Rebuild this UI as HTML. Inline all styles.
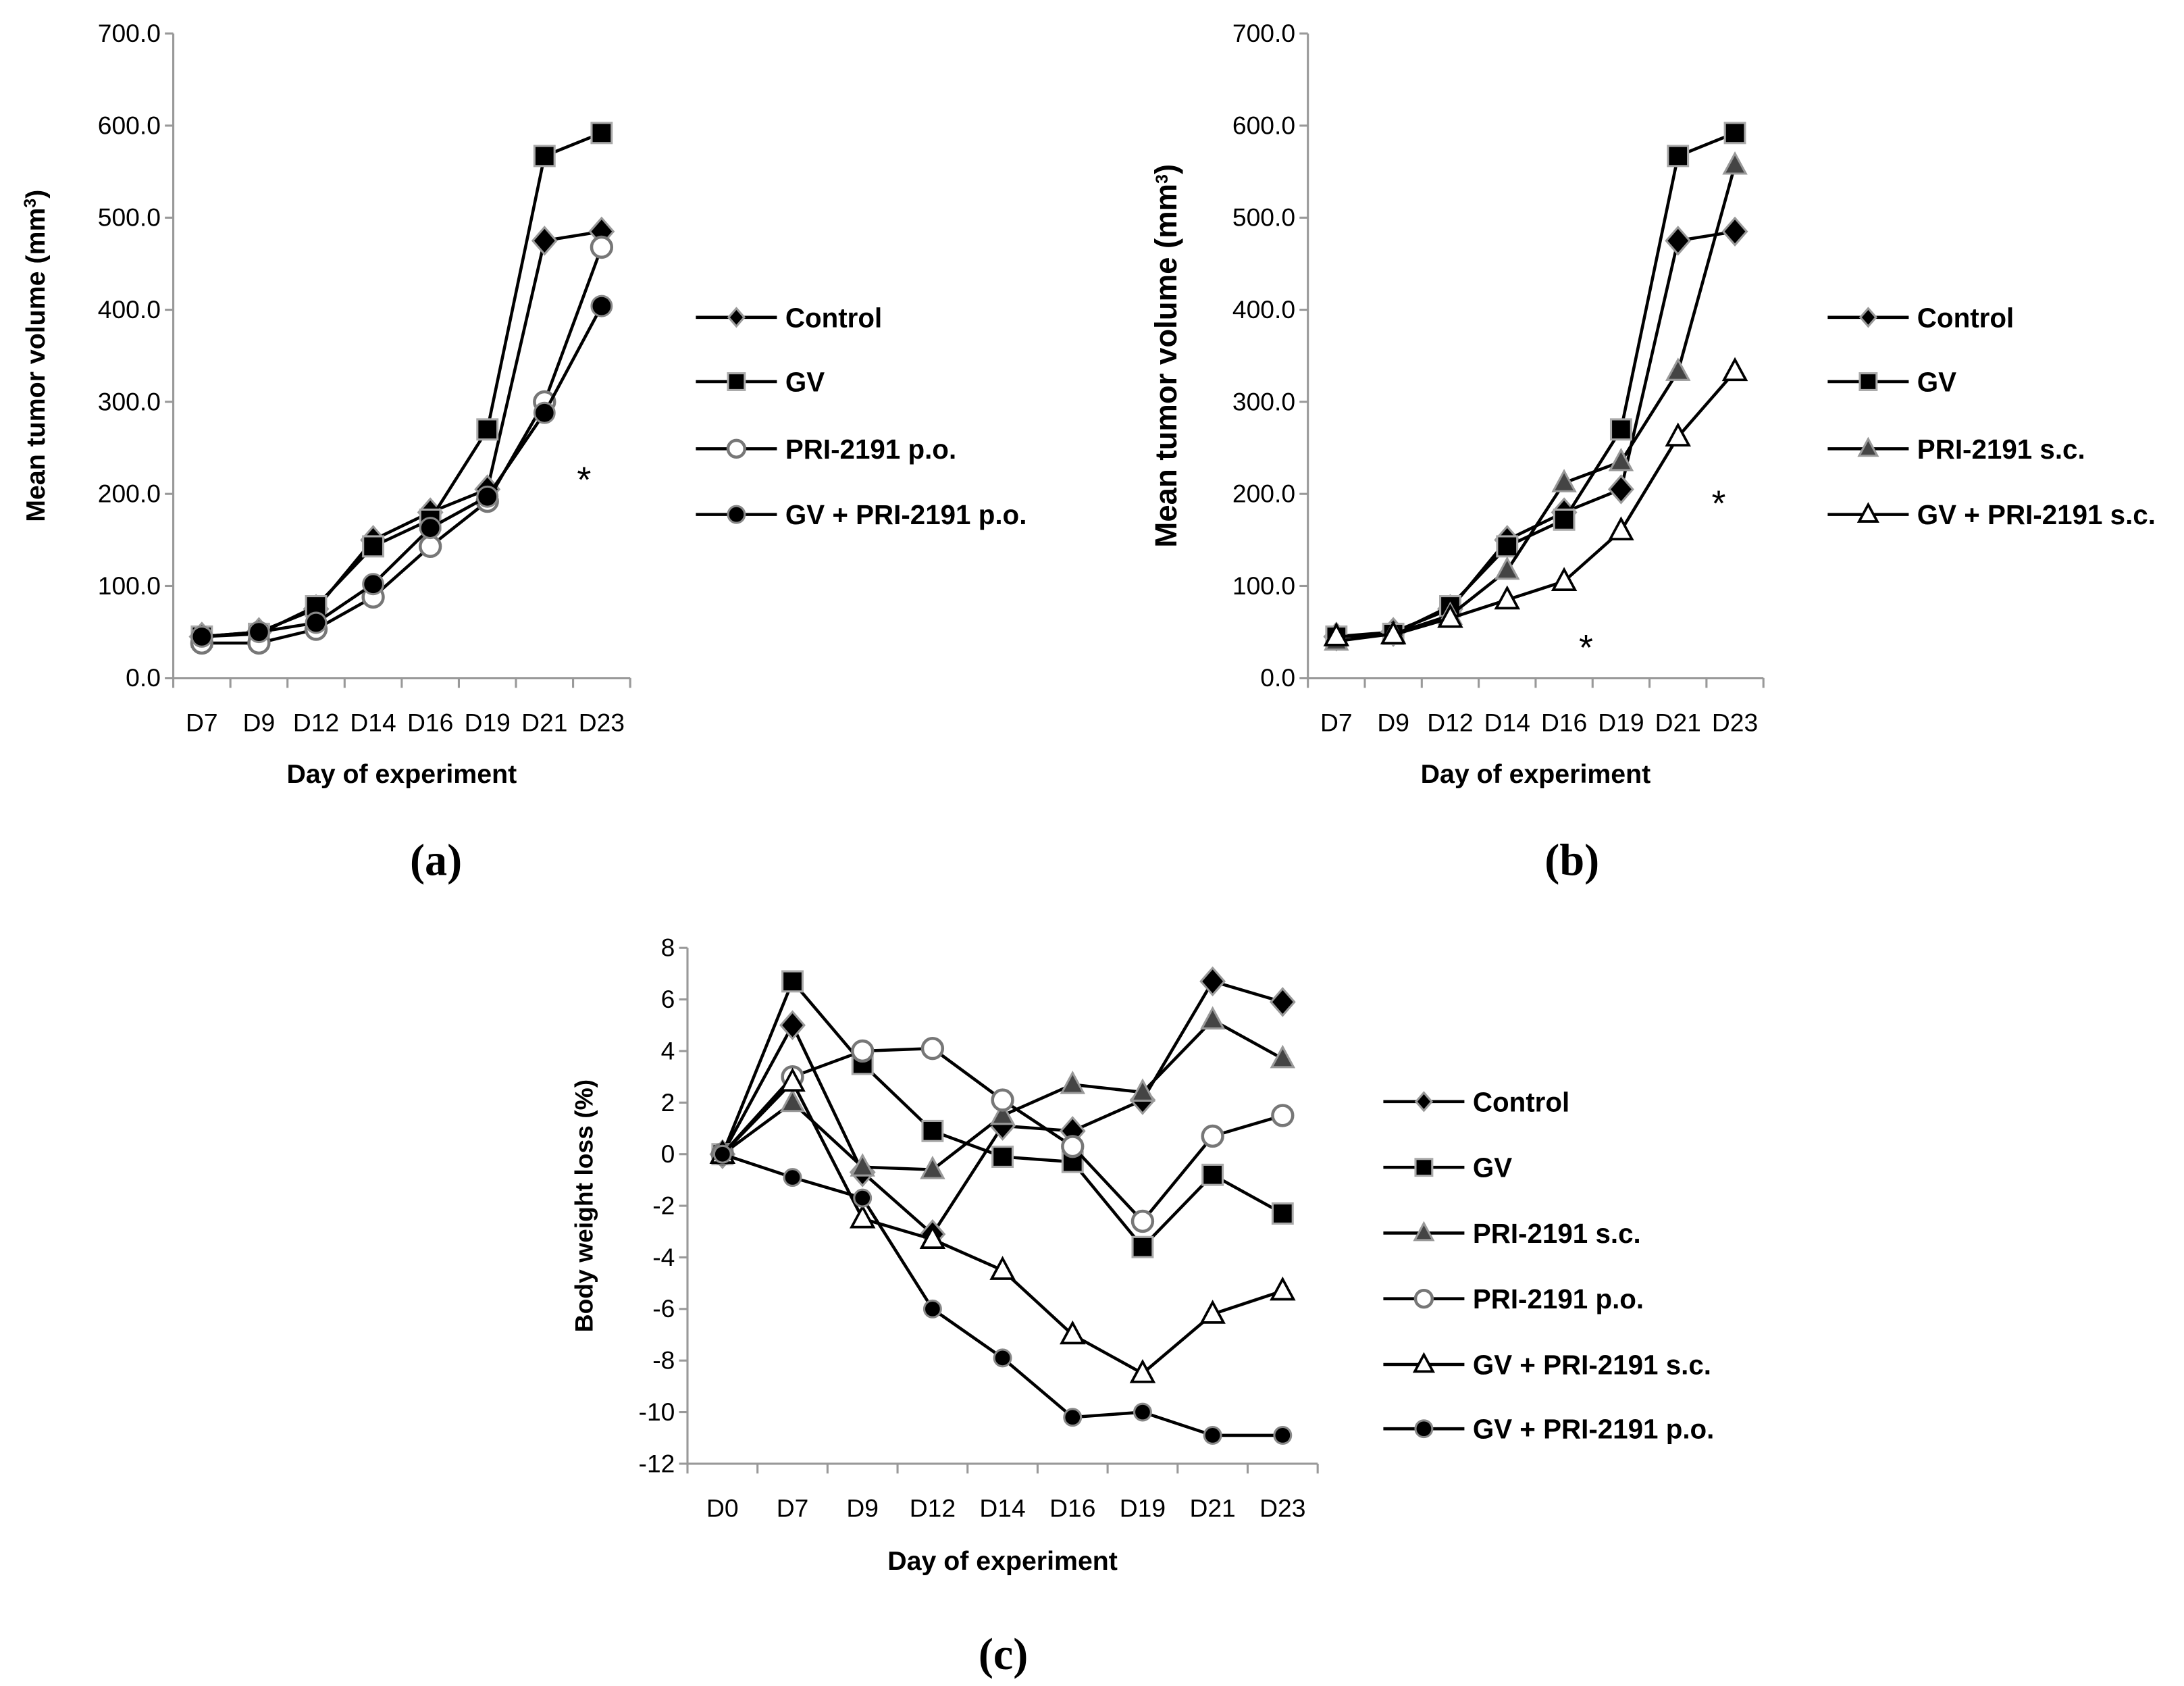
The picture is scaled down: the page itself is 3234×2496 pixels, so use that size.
<!DOCTYPE html>
<html><head><meta charset="utf-8"><style>
html,body{margin:0;padding:0;background:#fff;}
svg{display:block;font-family:"Liberation Sans",sans-serif;}
.tk{font-size:18px;fill:#000;}
.ttl{font-size:19px;font-weight:bold;fill:#000;}
.lg{font-size:19.5px;font-weight:bold;fill:#000;}
.pl{font-family:"Liberation Serif",serif;font-size:32px;font-weight:bold;}
</style></head><body>
<svg id="fig" width="3234" height="2496" viewBox="0 0 1563 1206" preserveAspectRatio="none" xmlns="http://www.w3.org/2000/svg"></svg>
<script>
const catsAB = ["D7","D9","D12","D14","D16","D19","D21","D23"];
const catsC = ["D0","D7","D9","D12","D14","D16","D19","D21","D23"];
const ticksAB = [0,100,200,300,400,500,600,700];
const ticksC = [-12,-10,-8,-6,-4,-2,0,2,4,6,8];
const aControl = [45,50,75,150,180,205,475,485];
const aGV = [45,48,78,143,172,270,567,592];
const aPRIpo = [38,38,53,88,143,192,300,468];
const aGVPRIpo = [45,50,60,102,163,197,288,404];
const bControl = [45,50,75,150,180,205,475,485];
const bGV = [45,48,78,143,172,270,567,592];
const bPRIsc = [40,48,68,117,212,235,333,557];
const bGVPRIsc = [45,47,65,85,105,160,262,333];
const cControl = [0,5,-0.7,-3.1,1.1,0.9,2.1,6.7,5.9];
const cGV = [0,6.7,3.5,0.9,-0.1,-0.3,-3.6,-0.8,-2.3];
const cPRIsc = [0,2,-0.5,-0.6,1.5,2.7,2.4,5.2,3.7];
const cPRIpo = [0,3,4,4.1,2.1,0.3,-2.6,0.7,1.5];
const cGVPRIsc = [0,2.8,-2.5,-3.3,-4.5,-7,-8.5,-6.2,-5.3];
const cGVPRIpo = [0,-0.9,-1.7,-6,-7.9,-10.2,-10,-10.9,-10.9];

const NS="http://www.w3.org/2000/svg";
const svg=document.getElementById('fig');
function mk(tag,attrs,parent){const e=document.createElementNS(NS,tag);for(const k in attrs)e.setAttribute(k,attrs[k]);(parent||svg).appendChild(e);return e;}

function marker(g,type,x,y,s){
  let e;
  if(type==='diamond'){e=mk('polygon',{points:`${x},${y-s*0.8} ${x+s*0.7},${y} ${x},${y+s*0.8} ${x-s*0.7},${y}`,fill:'#000',stroke:'#999','stroke-width':1.5},g);}
  else if(type==='square'){e=mk('rect',{x:x-s*0.6,y:y-s*0.6,width:s*1.2,height:s*1.2,fill:'#000',stroke:'#aaa','stroke-width':1.5},g);}
  else if(type==='ocircle'){e=mk('circle',{cx:x,cy:y,r:s*0.6,fill:'#fff',stroke:'#777','stroke-width':2.2},g);}
  else if(type==='fcircle'){e=mk('circle',{cx:x,cy:y,r:s*0.6,fill:'#000',stroke:'#888','stroke-width':1.5},g);}
  else if(type==='ftri'){e=mk('polygon',{points:`${x},${y-s*0.7} ${x+s*0.65},${y+s*0.5} ${x-s*0.65},${y+s*0.5}`,fill:'#444',stroke:'#999','stroke-width':1.5},g);}
  else if(type==='otri'){e=mk('polygon',{points:`${x},${y-s*0.7} ${x+s*0.65},${y+s*0.5} ${x-s*0.65},${y+s*0.5}`,fill:'#fff',stroke:'#000','stroke-width':1.8},g);}
  return e;
}

function chart(cfg){
  const g=mk('g',{});
  
  
  const {x0,x1,y0,y1,ymin,ymax,cats,ticks,fmt}=cfg;
  const bw=(x1-x0)/cats.length;
  const X=i=>x0+bw*(i+0.5);
  const Y=v=>y0-(v-ymin)/(ymax-ymin)*(y0-y1);
  const ax=mk('g',{},g);
  
  
  mk('line',{x1:x0,y1:y1,x2:x0,y2:y0,stroke:'#999','stroke-width':1.5},ax);
  ticks.forEach(t=>{
    mk('line',{x1:x0-6,y1:Y(t),x2:x0,y2:Y(t),stroke:'#999','stroke-width':1.5},ax);
    const tx=mk('text',{x:x0-9,y:Y(t)+6,'text-anchor':'end',class:'tk'},ax);
    
    
    tx.textContent=fmt(t);
  });
  const xa=mk('g',{},g);
  
  
  const zy=Y(cfg.xaxisAt);
  mk('line',{x1:x0,y1:zy,x2:x1,y2:zy,stroke:'#999','stroke-width':1.5},xa);
  for(let i=0;i<=cats.length;i++){mk('line',{x1:x0+bw*i,y1:zy,x2:x0+bw*i,y2:zy+7,stroke:'#999','stroke-width':1.5},xa);}
  cats.forEach((c,i)=>{
    const tx=mk('text',{x:X(i),y:cfg.catY,'text-anchor':'middle',class:'tk'},xa);
    
    
    tx.textContent=c;
  });
  const xt=mk('text',{x:(x0+x1)/2,y:cfg.xtY,'text-anchor':'middle',class:'ttl'},g);
  
  
  xt.textContent='Day of experiment';
  const yt=mk('text',{x:0,y:0,'text-anchor':'middle',class:'ttl',transform:`translate(${cfg.ytX},${(y0+y1)/2}) rotate(-90)`,style:`font-size:${cfg.ytSize}px`},g);
  
  
  yt.innerHTML=cfg.ytitle;
  cfg.series.forEach((s,si)=>{
    const sg=mk('g',{},g);
    
    
    const pts=s.data.map((v,i)=>X(i)+','+Y(v)).join(' ');
    mk('polyline',{points:pts,fill:'none',stroke:'#000','stroke-width':2.2},sg);
    s.data.forEach((v,i)=>{const m=marker(sg,s.type,X(i),Y(v),s.size||12);
      
      });
    const ly=cfg.legY[si];
    const lg=mk('g',{},g);
    
    
    mk('line',{x1:cfg.legX,y1:ly,x2:cfg.legX+58,y2:ly,stroke:'#000','stroke-width':2.2},lg);
    marker(lg,s.type,cfg.legX+29,ly,s.type==='diamond'?8:10);
    const t=mk('text',{x:cfg.legX+64,y:ly+7,class:'lg'},lg);
    t.textContent=s.label;
  });
  (cfg.stars||[]).forEach(p=>{const t=mk('text',{x:p[0],y:p[1]+12,'text-anchor':'middle',style:'font-size:26px;'},g);
    
    
    t.textContent='*';});
  const pl=mk('text',{x:cfg.plab[0],y:cfg.plab[1],'text-anchor':'middle',class:'pl'},g);
  
  
  pl.textContent=cfg.plab[2];
}
const f1=t=>t.toFixed(1);
const ytA='Mean tumor volume (mm<tspan baseline-shift="super" style="font-size:12px">3</tspan>)';
chart({name:'chart-a',x0:124,x1:451,y0:485,y1:24,ymin:0,ymax:700,cats:catsAB,ticks:ticksAB,fmt:f1,xaxisAt:0,catY:523,xtY:560,ytX:32,ytSize:19,ytitle:ytA,
 legX:498,legY:[227,273,321,368],stars:[[418,340]],plab:[312,626,'(a)'],
 series:[{key:'control',label:'Control',type:'diamond',data:aControl},{key:'gv',label:'GV',type:'square',data:aGV},
 {key:'pri-po',label:'PRI-2191 p.o.',type:'ocircle',data:aPRIpo},{key:'gv-pri-po',label:'GV + PRI-2191 p.o.',type:'fcircle',data:aGVPRIpo}]});
chart({name:'chart-b',x0:936,x1:1262,y0:485,y1:24,ymin:0,ymax:700,cats:catsAB,ticks:ticksAB,fmt:f1,xaxisAt:0,catY:523,xtY:560,ytX:842,ytSize:22,ytitle:ytA,
 legX:1308,legY:[227,273,321,368],stars:[[1230,357],[1135,460]],plab:[1125,626,'(b)'],
 series:[{key:'control',label:'Control',type:'diamond',data:bControl},{key:'gv',label:'GV',type:'square',data:bGV},
 {key:'pri-sc',label:'PRI-2191 s.c.',type:'ftri',data:bPRIsc},{key:'gv-pri-sc',label:'GV + PRI-2191 s.c.',type:'otri',data:bGVPRIsc}]});
chart({name:'chart-c',x0:492,x1:943,y0:1047,y1:678,ymin:-12,ymax:8,cats:catsC,ticks:ticksC,fmt:t=>String(t),xaxisAt:-12,catY:1085,xtY:1123,ytX:424,ytSize:18,ytitle:'Body weight loss (%)',
 legX:990,legY:[788,835,882,929,976,1022],stars:[],plab:[718,1194,'(c)'],
 series:[{key:'control',label:'Control',type:'diamond',data:cControl},{key:'gv',label:'GV',type:'square',data:cGV},
 {key:'pri-sc',label:'PRI-2191 s.c.',type:'ftri',data:cPRIsc},{key:'pri-po',label:'PRI-2191 p.o.',type:'ocircle',data:cPRIpo},
 {key:'gv-pri-sc',label:'GV + PRI-2191 s.c.',type:'otri',data:cGVPRIsc},{key:'gv-pri-po',label:'GV + PRI-2191 p.o.',type:'fcircle',data:cGVPRIpo,size:10}]});
</script>
</body></html>
